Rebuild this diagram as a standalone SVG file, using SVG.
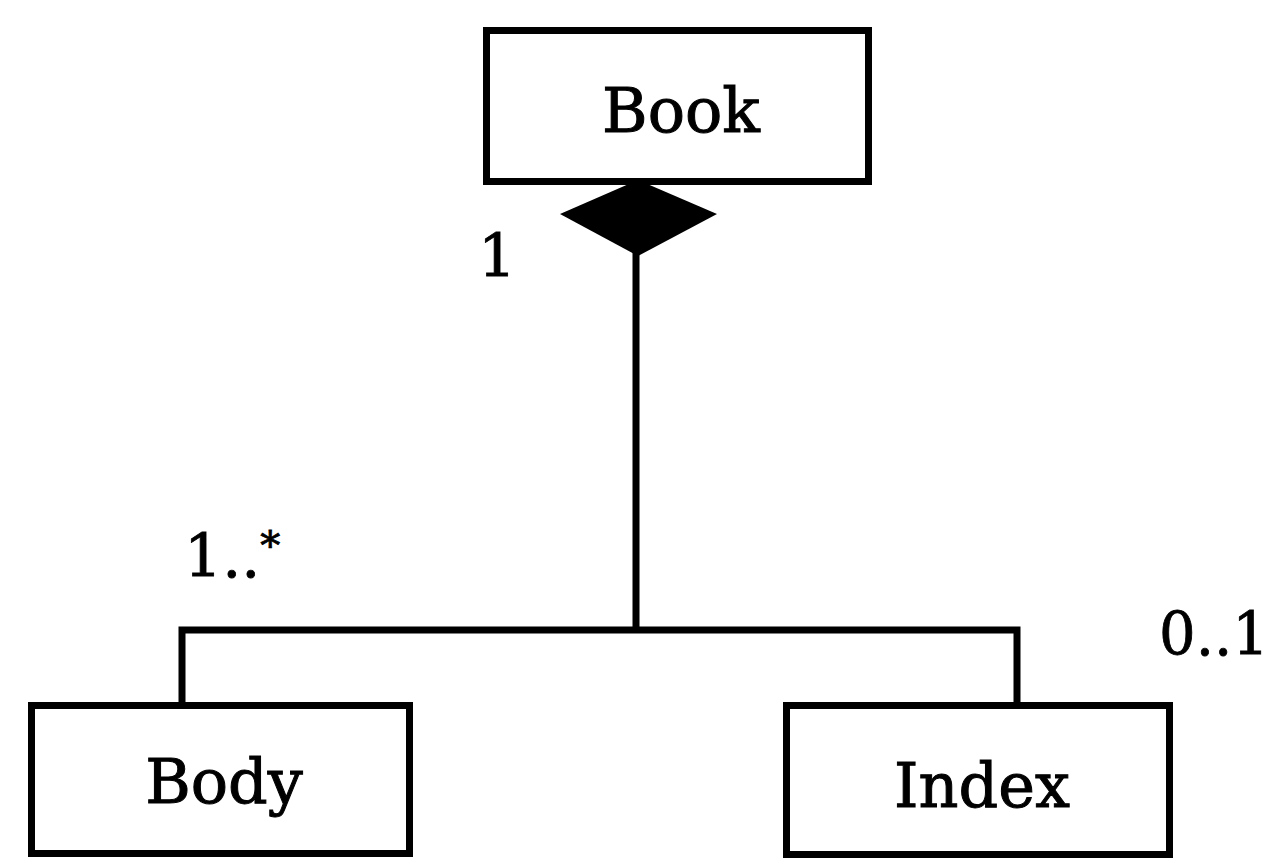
<svg xmlns="http://www.w3.org/2000/svg" width="1271" height="861" viewBox="0 0 1271 861">
  <style>
    .box { fill: #fff; stroke: #000; stroke-width: 7; }
    .name { font-family: "DejaVu Serif", "Liberation Serif", serif; font-size: 62px; fill: #000; stroke: #000; stroke-width: 1; text-anchor: middle; }
    .mult { font-family: "DejaVu Serif", "Liberation Serif", serif; font-size: 60px; fill: #000; stroke: #000; stroke-width: 0.8; }
    .wire { fill: none; stroke: #000; stroke-width: 7; stroke-linejoin: miter; }
  </style>
  <rect width="1271" height="861" fill="#fff"/>

  <g id="connectors">
    <!-- composition from Book down to the shared bar -->
    <line class="wire" x1="636" y1="250" x2="636" y2="631" stroke-width="5"/>
    <!-- bar splitting to Body and Index -->
    <polyline class="wire" points="182,706 182,630 1017,630 1017,704"/>
    <!-- filled composition diamond at Book -->
    <polygon points="638,180 717,214 638,256 560,214" fill="#000"/>
  </g>

  <g id="book">
    <rect class="box" x="486.5" y="30.5" width="382" height="151"/>
    <text class="name" x="681" y="132">Book</text>
  </g>

  <g id="body">
    <rect class="box" x="31.5" y="705.5" width="378" height="148"/>
    <text class="name" x="224" y="803">Body</text>
  </g>

  <g id="index">
    <rect class="box" x="786.5" y="705.5" width="383" height="149"/>
    <text class="name" x="982" y="807">Index</text>
  </g>

  <g id="multiplicities">
    <text class="mult" x="478" y="277">1</text>
    <text class="mult" x="184" y="577">1..<tspan font-size="40" dy="-18">*</tspan></text>
    <text class="mult" x="1159" y="655" textLength="110" lengthAdjust="spacingAndGlyphs">0..1</text>
  </g>
</svg>
